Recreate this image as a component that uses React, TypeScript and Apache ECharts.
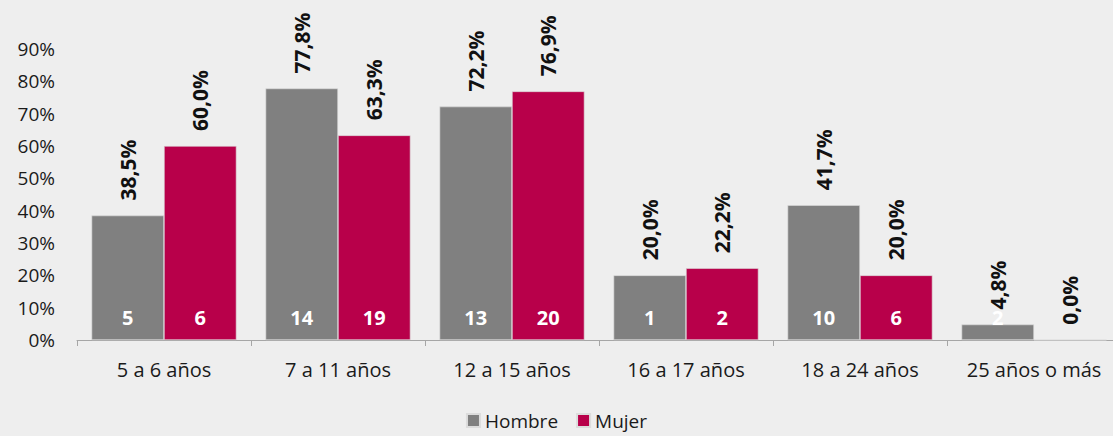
import React, { useEffect, useRef } from "react";
import * as echarts from "echarts";

const categories = ["5 a 6 años", "7 a 11 años", "12 a 15 años", "16 a 17 años", "18 a 24 años", "25 años o más"];
const hombrePct = [38.5, 77.8, 72.2, 20.0, 41.7, 4.8];
const mujerPct = [60.0, 63.3, 76.9, 22.2, 20.0, 0.0];
const hombreCount = [5, 14, 13, 1, 10, 2];
const mujerCount = [6, 19, 20, 2, 6, 0];
const yTicks = [0, 10, 20, 30, 40, 50, 60, 70, 80, 90];

const FONT = "'Open Sans', 'Noto Sans', sans-serif";
const GRAY = "#808080";
const RED = "#b8004a";

const fmt = (v: number) => v.toFixed(1).replace(".", ",") + "%";

export default function App() {
  const ref = useRef<HTMLDivElement>(null);
  useEffect(() => {
    document.body.style.margin = "0";
    document.body.style.background = "#eeeeee";
    const chart = echarts.init(ref.current!, undefined, { renderer: "svg" });
    const valueLabel = {
      show: true,
      position: "top",
      rotate: 90,
      align: "left",
      verticalAlign: "middle",
      distance: 15,
      fontFamily: FONT,
      fontWeight: "bold",
      fontSize: 21,
      color: "#111",
      formatter: (p: any) => fmt(p.value),
    };
    const countLabel = (arr: number[], pct: number[]) => ({
      show: true,
      position: "insideBottom",
      distance: 13,
      fontFamily: FONT,
      fontWeight: "bold",
      fontSize: 20,
      color: "#ffffff",
      formatter: (p: any) => (pct[p.dataIndex] > 0 ? String(arr[p.dataIndex]) : ""),
    });
    const xBase = {
      type: "category",
      data: categories,
    };
    chart.setOption({
      animation: false,
      backgroundColor: "#eeeeee",
      textStyle: { fontFamily: FONT },
      grid: { left: 77, top: 49, width: 1044, bottom: 96, outerBoundsMode: "none" },
      legend: {
        data: ["Hombre", "Mujer"],
        top: 409,
        left: "center",
        padding: 2,
        itemWidth: 13,
        itemHeight: 13,
        itemGap: 18,
        icon: "rect",
        textStyle: { fontFamily: FONT, fontSize: 19, color: "#1a1a1a" },
      },
      xAxis: [
        {
          ...xBase,
          axisLine: { show: true, lineStyle: { color: "#a6a6a6", width: 1 } },
          axisTick: { show: true, length: 6, lineStyle: { color: "#a6a6a6" } },
          axisLabel: { fontFamily: FONT, fontSize: 20, color: "#1a1a1a", margin: 19, interval: 0 },
        },
        { ...xBase, show: false },
      ],
      yAxis: {
        type: "value",
        min: yTicks[0],
        max: yTicks[yTicks.length - 1],
        interval: 10,
        splitLine: { show: false },
        axisLine: { show: false },
        axisTick: { show: false },
        axisLabel: {
          fontFamily: FONT,
          fontSize: 19,
          color: "#1a1a1a",
          margin: 22,
          formatter: (v: number) => v + "%",
        },
      },
      series: [
        {
          name: "Hombre",
          type: "bar",
          data: hombrePct,
          barGap: "0%",
          barCategoryGap: "16.7%",
          itemStyle: { color: GRAY, borderColor: "#dcdcdc", borderWidth: 0.6 },
          label: valueLabel,
          z: 2,
        },
        {
          name: "Mujer",
          type: "bar",
          data: mujerPct,
          barGap: "0%",
          barCategoryGap: "16.7%",
          itemStyle: { color: RED, borderColor: "#dcdcdc", borderWidth: 0.6 },
          label: valueLabel,
          z: 2,
        },
        {
          name: "HombreN",
          type: "bar",
          xAxisIndex: 1,
          data: hombrePct,
          barGap: "0%",
          barCategoryGap: "16.7%",
          itemStyle: { color: "rgba(0,0,0,0)" },
          label: countLabel(hombreCount, hombrePct),
          z: 3,
          silent: true,
        },
        {
          name: "MujerN",
          type: "bar",
          xAxisIndex: 1,
          data: mujerPct,
          barGap: "0%",
          barCategoryGap: "16.7%",
          itemStyle: { color: "rgba(0,0,0,0)" },
          label: countLabel(mujerCount, mujerPct),
          z: 3,
          silent: true,
        },
      ],
    });
    return () => chart.dispose();
  }, []);
  return (
    <div
      ref={ref}
      style={{ position: "absolute", left: 0, top: 0, width: 1113, height: 436, background: "#eeeeee" }}
    />
  );
}
